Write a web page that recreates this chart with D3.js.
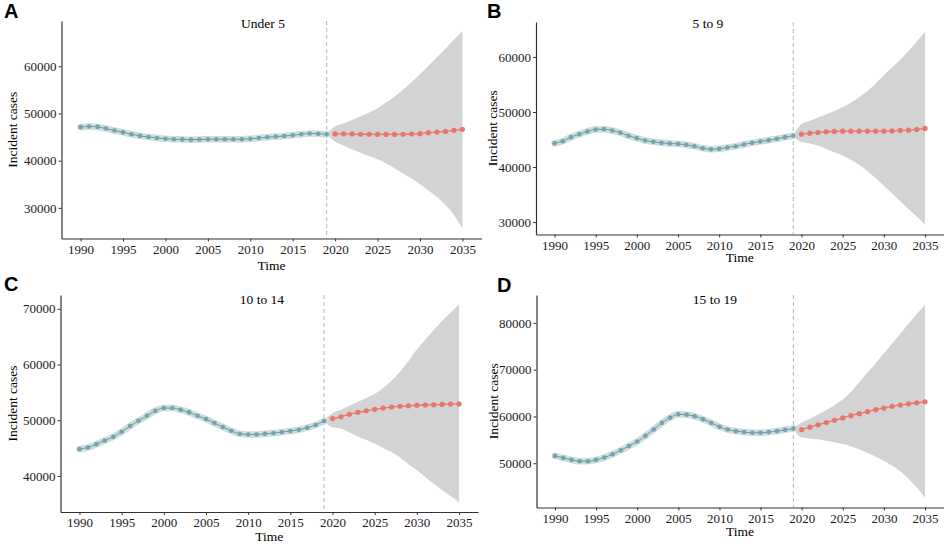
<!DOCTYPE html>
<html>
<head>
<meta charset="utf-8">
<script src="https://cdn.jsdelivr.net/npm/d3@7"></script>
<style>
  html, body { margin: 0; padding: 0; background: #fff; }
  svg { display: block; }
  .tick text { font-family: 'Liberation Serif', 'Times New Roman', serif; font-size: 13px; fill: #1a1a1a; }
  .tick line, .domain { stroke: #333; }
</style>
</head>
<body>
<svg id="chart-svg" width="947" height="547"></svg>
<script>
// observed years and the forecast years
const histYears = [1990, 1991, 1992, 1993, 1994, 1995, 1996, 1997, 1998, 1999,
  2000, 2001, 2002, 2003, 2004, 2005, 2006, 2007, 2008, 2009,
  2010, 2011, 2012, 2013, 2014, 2015, 2016, 2017, 2018, 2019];
const foreYears = [2020, 2021, 2022, 2023, 2024, 2025, 2026, 2027,
  2028, 2029, 2030, 2031, 2032, 2033, 2034, 2035];
const bandYears = [2019, 2020, 2021, 2022, 2023, 2024, 2025, 2026, 2027,
  2028, 2029, 2030, 2031, 2032, 2033, 2034, 2035];

const panelLetters = ['A', 'B', 'C', 'D'];
const panelTitles = ['Under 5', '5 to 9', '10 to 14', '15 to 19'];
const xTicks = [1990, 1995, 2000, 2005, 2010, 2015, 2020, 2025, 2030, 2035];
const yTicks = [
  [30000, 40000, 50000, 60000],
  [30000, 40000, 50000, 60000],
  [40000, 50000, 60000, 70000],
  [50000, 60000, 70000, 80000],
];

// incident cases, 1990-2019
const histUnder5 = [47100, 47250, 47150, 46800, 46400, 46000, 45600, 45250, 45000, 44800,
  44650, 44550, 44500, 44450, 44480, 44530, 44550, 44550, 44550, 44550,
  44620, 44800, 44950, 45100, 45200, 45400, 45600, 45750, 45700, 45600];
const hist5to9 = [44330, 44700, 45430, 45970, 46470, 46830, 46890, 46650, 46230, 45690,
  45250, 44830, 44590, 44400, 44280, 44220, 44040, 43790, 43420, 43240,
  43310, 43550, 43790, 44100, 44400, 44650, 44880, 45140, 45430, 45690];
const hist10to14 = [44810, 45110, 45700, 46370, 47020, 47920, 48950, 49900, 50800, 51700,
  52180, 52180, 51880, 51410, 50800, 50200, 49490, 48770, 48100, 47560,
  47450, 47450, 47560, 47690, 47870, 48050, 48300, 48650, 49150, 49850];
const hist15to19 = [51570, 51140, 50720, 50430, 50430, 50720, 51210, 51910, 52760, 53690,
  54660, 55870, 57200, 58630, 59750, 60460, 60380, 60040, 59410, 58630,
  57780, 57200, 56860, 56650, 56500, 56500, 56650, 56860, 57140, 57420];

// predicted incident cases, 2020-2035
const foreUnder5 = [45680, 45680, 45660, 45600, 45600, 45550, 45550, 45550,
  45600, 45650, 45720, 45920, 46060, 46200, 46420, 46650];
const fore5to9 = [45970, 46160, 46280, 46410, 46470, 46520, 46520, 46520,
  46520, 46520, 46520, 46560, 46650, 46700, 46830, 47020];
const fore10to14 = [50300, 50620, 51050, 51410, 51700, 51950, 52180, 52360,
  52490, 52600, 52670, 52730, 52780, 52840, 52900, 52930];
const fore15to19 = [57200, 57710, 58200, 58690, 59190, 59680, 60170, 60600,
  61020, 61440, 61800, 62160, 62440, 62710, 62930, 63140];

// prediction interval, 2019-2035
const upperUnder5 = [45600, 47300, 47900, 48600, 49400, 50200, 51100, 52300, 53600,
  55000, 56600, 58300, 60100, 61900, 63700, 65600, 67500];
const lowerUnder5 = [45600, 44000, 43200, 42400, 41700, 41000, 40300, 39400, 38400,
  37300, 36200, 35000, 33700, 32300, 30600, 28500, 25600];
const upper5to9 = [45690, 47800, 48400, 49000, 49600, 50200, 50900, 51700, 52700,
  53800, 55200, 56700, 58100, 59500, 61100, 62800, 64600];
const lower5to9 = [45690, 44500, 44300, 43900, 43300, 42700, 42100, 41300, 40400,
  39300, 38000, 36600, 35200, 33800, 32400, 31000, 29500];
const upper10to14 = [49850, 51300, 51900, 52600, 53300, 54000, 54700, 55800, 57100,
  58700, 60600, 62700, 64500, 66200, 67800, 69300, 70700];
const lower10to14 = [49850, 48700, 48500, 47800, 47100, 46500, 45800, 45000, 44300,
  43300, 42100, 41000, 39800, 38600, 37500, 36400, 35300];
const upper15to19 = [57420, 58700, 59500, 60400, 61400, 62400, 63600, 65300, 67300,
  69400, 71400, 73500, 75600, 77700, 79800, 81900, 83900];
const lower15to19 = [57420, 55500, 55300, 55100, 54800, 54500, 54100, 53600, 53000,
  52200, 51400, 50500, 49500, 48300, 46700, 44800, 42600];

const histSeries = [histUnder5, hist5to9, hist10to14, hist15to19];
const foreSeries = [foreUnder5, fore5to9, fore10to14, fore15to19];
const upperSeries = [upperUnder5, upper5to9, upper10to14, upper15to19];
const lowerSeries = [lowerUnder5, lower5to9, lower10to14, lower15to19];

// where each panel sits on the page
const layout = [
  { left: 61.5, right: 481.5, top: 21, bottom: 238.5, titleX: 263, titleY: 28, letterX: 4, letterY: 18, yLabX: 12, xLabY: 270 },
  { left: 536, right: 943.5, top: 22, bottom: 234.5, titleX: 708, titleY: 28, letterX: 487, letterY: 18, yLabX: 492, xLabY: 262 },
  { left: 60.5, right: 478, top: 295, bottom: 512, titleX: 262, titleY: 304, letterX: 4, letterY: 291, yLabX: 12, xLabY: 541 },
  { left: 536.5, right: 943.5, top: 295, bottom: 507.5, titleX: 715, titleY: 304, letterX: 497, letterY: 292, yLabX: 493, xLabY: 536 },
];

const serif = "'Liberation Serif', 'Times New Roman', serif";
const histColor = '#72a6a7';
const foreColor = '#e8766d';

const svg = d3.select('#chart-svg');

const drawPanel = (i) => {
  const box = layout[i];
  const hist = histYears.map((year, j) => ({ year, value: histSeries[i][j] }));
  const fore = foreYears.map((year, j) => ({ year, value: foreSeries[i][j] }));
  const band = bandYears.map((year, j) => ({ year, lo: lowerSeries[i][j], hi: upperSeries[i][j] }));

  // ggplot style 5% padding on both scales
  const xPad = (2035 - 1990) * 0.05;
  const x = d3.scaleLinear().domain([1990 - xPad, 2035 + xPad]).range([box.left, box.right]);
  const yMin = d3.min([...lowerSeries[i], ...histSeries[i]]);
  const yMax = d3.max([...upperSeries[i], ...histSeries[i]]);
  const yPad = (yMax - yMin) * 0.05;
  const y = d3.scaleLinear().domain([yMin - yPad, yMax + yPad]).range([box.bottom, box.top]);

  const g = svg.append('g').attr('class', 'panel');

  // prediction interval
  g.append('path')
    .datum(band)
    .attr('fill', '#d3d3d3')
    .attr('d', d3.area()
      .x((d) => x(d.year))
      .y0((d) => y(d.lo))
      .y1((d) => y(d.hi))
      .curve(d3.curveMonotoneX));

  // cut between observed and predicted
  g.append('line')
    .attr('x1', x(2019))
    .attr('x2', x(2019))
    .attr('y1', box.top)
    .attr('y2', box.bottom)
    .attr('stroke', '#bdbdbd')
    .attr('stroke-width', 1.1)
    .attr('stroke-dasharray', '4,3');

  const line = d3.line()
    .x((d) => x(d.year))
    .y((d) => y(d.value))
    .curve(d3.curveMonotoneX);

  // soft band behind the observed series
  g.append('path')
    .datum(hist)
    .attr('fill', 'none')
    .attr('stroke', '#d0dae1')
    .attr('stroke-width', 6.5)
    .attr('stroke-linecap', 'round')
    .attr('stroke-linejoin', 'round')
    .attr('d', line);

  g.append('path')
    .datum(hist)
    .attr('fill', 'none')
    .attr('stroke', '#669c9d')
    .attr('stroke-width', 1)
    .attr('d', line);

  g.selectAll('.hist-dot')
    .data(hist)
    .join('circle')
    .attr('class', 'hist-dot')
    .attr('cx', (d) => x(d.year))
    .attr('cy', (d) => y(d.value))
    .attr('r', 2.3)
    .attr('fill', histColor);

  g.append('path')
    .datum(fore)
    .attr('fill', 'none')
    .attr('stroke', foreColor)
    .attr('stroke-width', 1.3)
    .attr('d', line);

  g.selectAll('.fore-dot')
    .data(fore)
    .join('circle')
    .attr('class', 'fore-dot')
    .attr('cx', (d) => x(d.year))
    .attr('cy', (d) => y(d.value))
    .attr('r', 2.6)
    .attr('fill', foreColor);

  // axes
  g.append('g')
    .attr('transform', `translate(0,${box.bottom})`)
    .call(d3.axisBottom(x).tickValues(xTicks).tickFormat(d3.format('d')).tickSize(3).tickSizeOuter(0).tickPadding(3));

  g.append('g')
    .attr('transform', `translate(${box.left},0)`)
    .call(d3.axisLeft(y).tickValues(yTicks[i]).tickFormat(d3.format('d')).tickSize(3).tickSizeOuter(0).tickPadding(2));

  g.selectAll('.domain').attr('stroke-width', 1.2);

  // labels
  g.append('text')
    .attr('x', box.titleX)
    .attr('y', box.titleY)
    .attr('text-anchor', 'middle')
    .style('font-family', serif)
    .style('font-size', '13.5px')
    .text(panelTitles[i]);

  g.append('text')
    .attr('x', (box.left + box.right) / 2)
    .attr('y', box.xLabY)
    .attr('text-anchor', 'middle')
    .style('font-family', serif)
    .style('font-size', '13.5px')
    .text('Time');

  g.append('text')
    .attr('transform', `translate(${box.yLabX},${(box.top + box.bottom) / 2}) rotate(-90)`)
    .attr('text-anchor', 'middle')
    .attr('dominant-baseline', 'central')
    .style('font-family', serif)
    .style('font-size', '13.5px')
    .text('Incident cases');

  g.append('text')
    .attr('x', box.letterX)
    .attr('y', box.letterY)
    .style('font-family', "'Liberation Sans', Arial, sans-serif")
    .style('font-weight', 'bold')
    .style('font-size', '20px')
    .text(panelLetters[i]);
};

panelLetters.forEach((d, i) => drawPanel(i));
</script>
</body>
</html>
